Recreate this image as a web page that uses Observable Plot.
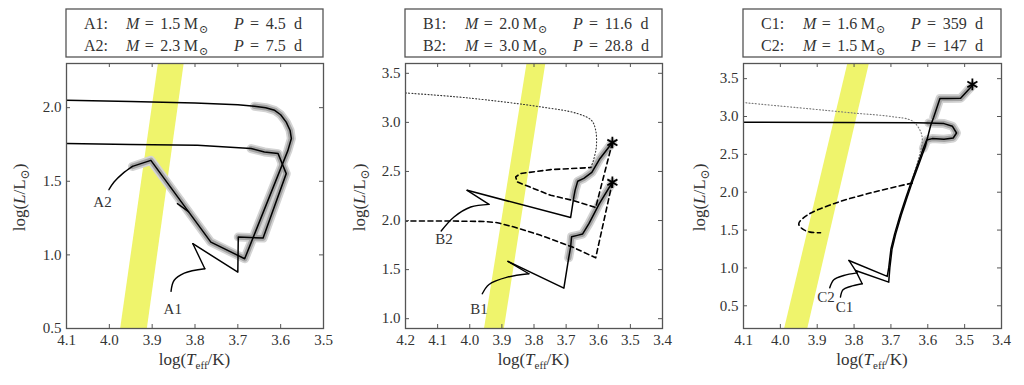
<!DOCTYPE html>
<html><head><meta charset="utf-8">
<script src="https://cdn.jsdelivr.net/npm/d3@7"></script>
<script src="https://cdn.jsdelivr.net/npm/@observablehq/plot@0.6"></script>
<style>
body{margin:0;background:#fff;}
#chart{position:relative;width:1024px;height:385px;overflow:hidden;}
#chart svg{position:absolute;top:0;}
</style></head><body><div id="chart"></div>
<script>
// ---------- data ----------
// instability strip edges (log Teff at given log L)
const stripLum = [0.0, 4.0];
const stripBlueEdge = [3.998, 3.802];
const stripRedEdge = [3.935, 3.744];

// Panel A
const A_xTicks = [4.1, 4.0, 3.9, 3.8, 3.7, 3.6, 3.5];
const A_yTicks = [0.5, 1.0, 1.5, 2.0];
const A_names = ["A1", "A2"];
const A_mass = ["1.5", "2.3"];
const A_period = ["4.5", "7.5"];
const A1_track = [[3.805,1.076],[3.700,0.883],[3.699,1.121],[3.641,1.114],[3.587,1.552],[3.606,1.688],[3.638,1.699],[3.669,1.722],[3.794,1.744],[3.950,1.749],[4.100,1.756]];
const A2_track = [[3.946,1.601],[3.903,1.642],[3.763,1.087],[3.684,0.974],[3.583,1.710],[3.575,1.790],[3.578,1.845],[3.587,1.902],[3.600,1.952],[3.614,1.982],[3.635,2.000],[3.661,2.010],[3.700,2.020],[3.800,2.032],[3.950,2.042],[4.100,2.050]];
const A2_hook = [[3.841,1.348],[3.815,1.293]];
const A1_arrow = [[3.856,0.752],[3.849,0.826],[3.825,0.876],[3.777,0.906]];
const A2_arrow = [[4.001,1.443],[3.989,1.495],[3.969,1.552],[3.946,1.601]];
const A_labelPos = [[3.852,0.634],[4.016,1.357]];

// Panel B
const B_xTicks = [4.2, 4.1, 4.0, 3.9, 3.8, 3.7, 3.6, 3.5, 3.4];
const B_yTicks = [1.0, 1.5, 2.0, 2.5, 3.0, 3.5];
const B_names = ["B1", "B2"];
const B_mass = ["2.0", "3.0"];
const B_period = ["11.6", "28.8"];
const B1_track = [[3.881,1.584],[3.707,1.311],[3.692,1.620],[3.686,1.730],[3.683,1.835],[3.665,1.849],[3.649,1.862],[3.629,1.968],[3.597,2.170],[3.556,2.390]];
const B2_track = [[4.008,2.308],[3.686,2.030],[3.676,2.240],[3.672,2.310],[3.664,2.400],[3.645,2.430],[3.620,2.490],[3.595,2.630],[3.556,2.795]];
const B1_dashed = [[3.556,2.390],[3.608,1.620],[3.680,1.730],[3.779,1.849],[3.862,1.934],[3.914,1.978],[3.950,1.990],[4.060,1.995],[4.200,1.995]];
const B2_dashed = [[3.556,2.795],[3.608,2.132],[3.680,2.206],[3.748,2.257],[3.852,2.393],[3.857,2.444],[3.842,2.479],[3.748,2.519],[3.623,2.540]];
const B2_dotted = [[3.623,2.540],[3.615,2.614],[3.606,2.750],[3.608,2.920],[3.621,3.020],[3.665,3.090],[3.779,3.158],[4.008,3.250],[4.200,3.300]];
const B_stars = [[3.556,2.795],[3.556,2.390]];
const B1_arrow = [[3.961,1.254],[3.940,1.349],[3.883,1.423],[3.816,1.458]];
const B2_arrow = [[4.089,1.893],[4.049,2.036],[3.997,2.138],[3.940,2.165]];
const B_labelPos = [[3.971,1.100],[4.080,1.815]];

// Panel C
const C_xTicks = [4.1, 4.0, 3.9, 3.8, 3.7, 3.6, 3.5, 3.4];
const C_yTicks = [0.5, 1.0, 1.5, 2.0, 2.5, 3.0, 3.5];
const C_names = ["C1", "C2"];
const C_mass = ["1.6", "1.5"];
const C_period = ["359", "147"];
const C1_track = [[3.796,0.967],[3.706,0.812],[3.703,1.000],[3.697,1.250],[3.687,1.450],[3.672,1.700],[3.657,1.920],[3.643,2.120],[3.625,2.360],[3.607,2.600],[3.592,2.884],[3.584,2.990],[3.567,3.237],[3.547,3.237],[3.511,3.240],[3.479,3.410]];
const C2_track = [[3.814,1.099],[3.710,0.888],[3.706,1.000],[3.700,1.250],[3.690,1.450],[3.675,1.700],[3.660,1.920],[3.646,2.120],[3.628,2.360],[3.612,2.580],[3.603,2.690],[3.588,2.708],[3.556,2.699],[3.531,2.716],[3.522,2.782],[3.533,2.871],[3.556,2.906],[3.597,2.915],[3.633,2.917],[4.100,2.925]];
const C_dashed = [[3.642,2.121],[3.746,2.002],[3.855,1.849],[3.928,1.694],[3.950,1.584],[3.941,1.518],[3.919,1.473],[3.891,1.465]];
const C_dotted = [[3.640,2.200],[3.624,2.465],[3.615,2.663],[3.619,2.796],[3.642,2.941],[3.700,3.000],[3.800,3.045],[3.928,3.105],[4.100,3.184]];
const C_stars = [[3.479,3.425]];
const C1_arrow = [[3.837,0.614],[3.830,0.712],[3.810,0.755],[3.778,0.791]];
const C2_arrow = [[3.866,0.738],[3.855,0.844],[3.828,0.900],[3.792,0.935]];
const C_labelPos = [[3.826,0.476],[3.876,0.610]];

// ---------- drawing ----------
const FONT = "'Liberation Serif', 'DejaVu Serif', serif";
const TEXT = "#333";
const FRAME = "#555";
const STRIP = "#eff46c";
const strip = stripLum.map((L, i) => ({L, blue: stripBlueEdge[i], red: stripRedEdge[i]}));
const X = d => d[0], Y = d => d[1];
const fmt = d3.format(".1f");

const panels = [
  {left: 0, width: 340, ml: 66, mr: 17, xdom: [4.1, 3.5], ydom: [0.5, 2.3], xTicks: A_xTicks, yTicks: A_yTicks,
   names: A_names, mass: A_mass, period: A_period,
   tracks: [A1_track, A2_track, A2_hook], highlights: [A1_track.slice(2, 8), A2_track.slice(0, 12)],
   dashed: [], dotted: [], stars: [], dottedColor: "#333",
   arrows: [{curve: A1_arrow, tip: A1_track[0]}, {curve: A2_arrow, tip: null}],
   labels: A_labelPos.map((p, i) => ({p, t: A_names[i]}))},
  {left: 340, width: 340, ml: 65, mr: 18, xdom: [4.2, 3.4], ydom: [0.9, 3.6], xTicks: B_xTicks, yTicks: B_yTicks,
   names: B_names, mass: B_mass, period: B_period,
   tracks: [B1_track, B2_track], highlights: [B1_track.slice(2), B2_track.slice(2)],
   dashed: [B1_dashed, B2_dashed], dashedCurve: "linear", dotted: [B2_dotted], stars: B_stars, dottedColor: "#333",
   arrows: [{curve: B1_arrow, tip: B1_track[0]}, {curve: B2_arrow, tip: B2_track[0]}],
   labels: B_labelPos.map((p, i) => ({p, t: B_names[i]}))},
  {left: 680, width: 344, ml: 63, mr: 23, xdom: [4.1, 3.4], ydom: [0.2, 3.7], xTicks: C_xTicks, yTicks: C_yTicks,
   names: C_names, mass: C_mass, period: C_period,
   tracks: [C1_track, C2_track], highlights: [C1_track.slice(11), C2_track.slice(9, 18)],
   dashed: [C_dashed], dashedCurve: "catmull-rom", dotted: [C_dotted], stars: C_stars, dottedColor: "#777",
   arrows: [{curve: C1_arrow, tip: C1_track[0]}, {curve: C2_arrow, tip: C2_track[0]}],
   labels: C_labelPos.map((p, i) => ({p, t: C_names[i]}))}
];

const H = 385, MT = 63, MB = 57;
for (const p of panels) {
  const innerW = p.width - p.ml - p.mr, innerH = H - MT - MB;
  const marks = [Plot.areaX(strip, {y: "L", x1: "blue", x2: "red", fill: STRIP, clip: true})];
  for (const h of p.highlights) marks.push(Plot.line(h, {x: X, y: Y, stroke: "#d4d4d4", strokeWidth: 9, strokeLinejoin: "round", strokeLinecap: "round", clip: true}));
  for (const h of p.highlights) marks.push(Plot.line(h, {x: X, y: Y, stroke: "#a4a4a4", strokeWidth: 5.5, strokeLinejoin: "round", strokeLinecap: "round", clip: true}));
  for (const d of p.dotted) marks.push(Plot.line(d, {x: X, y: Y, stroke: p.dottedColor, strokeWidth: 1.1, strokeDasharray: "1,2.2", curve: "catmull-rom", clip: true}));
  for (const d of p.dashed) marks.push(Plot.line(d, {x: X, y: Y, stroke: "black", strokeWidth: 1.6, strokeDasharray: "5,3.5", curve: p.dashedCurve, clip: true}));
  for (const t of p.tracks) marks.push(Plot.line(t, {x: X, y: Y, stroke: "black", strokeWidth: 1.5, clip: true}));
  for (const a of p.arrows) {
    marks.push(Plot.line(a.curve, {x: X, y: Y, stroke: "black", strokeWidth: 1.4, curve: "catmull-rom", clip: true}));
    if (a.tip) marks.push(Plot.line([a.curve[a.curve.length - 1], a.tip], {x: X, y: Y, stroke: "black", strokeWidth: 1.4, clip: true}));
  }
  marks.push(Plot.text(p.labels, {x: d => d.p[0], y: d => d.p[1], text: d => d.t, fontSize: 15, fill: TEXT}));
  if (p.stars.length) marks.push(Plot.dot(p.stars, {x: X, y: Y, symbol: "asterisk", r: 5.5, stroke: "black", strokeWidth: 1.8}));
  marks.push(Plot.frame({stroke: FRAME, strokeWidth: 1.3}));
  marks.push(Plot.tickX(p.xTicks, {x: d => d, insetTop: innerH - 4, stroke: FRAME}));
  marks.push(Plot.tickX(p.xTicks, {x: d => d, insetBottom: innerH - 4, stroke: FRAME}));
  marks.push(Plot.tickY(p.yTicks, {y: d => d, insetRight: innerW - 4, stroke: FRAME}));
  marks.push(Plot.tickY(p.yTicks, {y: d => d, insetLeft: innerW - 4, stroke: FRAME}));
  marks.push(Plot.axisX({ticks: p.xTicks, tickSize: 0, tickPadding: 6, tickFormat: fmt, label: null, fontSize: 15, fill: TEXT}));
  marks.push(Plot.axisY({ticks: p.yTicks, tickSize: 0, tickPadding: 5, tickFormat: fmt, label: null, fontSize: 15, fill: TEXT}));

  const svg = Plot.plot({
    width: p.width, height: H,
    marginLeft: p.ml, marginRight: p.mr, marginTop: MT, marginBottom: MB,
    x: {domain: p.xdom}, y: {domain: p.ydom},
    style: {fontFamily: FONT, fontSize: "15px", background: "transparent", overflow: "visible"},
    marks
  });
  svg.style.left = p.left + "px";
  const s = d3.select(svg);
  const g = s.append("g").attr("font-family", FONT).attr("fill", TEXT).attr("text-anchor", "start");
  // title box
  g.append("rect").attr("x", p.ml).attr("y", 9).attr("width", innerW).attr("height", 48)
    .attr("fill", "none").attr("stroke", FRAME).attr("stroke-width", 1.3);
  const baselines = [29, 50.5];
  p.names.forEach((nm, i) => {
    const y = baselines[i];
    g.append("text").attr("x", p.ml + 18).attr("y", y).attr("font-size", 16).text(nm + ":");
    const t2 = g.append("text").attr("x", p.ml + 60).attr("y", y).attr("font-size", 16);
    t2.append("tspan").attr("font-style", "italic").text("M");
    t2.append("tspan").attr("dx", 5.5).text("=");
    t2.append("tspan").attr("dx", 6.3).text(p.mass[i]);
    t2.append("tspan").attr("dx", 3.5).text("M");
    t2.append("tspan").attr("dx", 1).attr("dy", 4).attr("font-size", 11).text("\u2299");
    const t3 = g.append("text").attr("x", p.ml + 168).attr("y", y).attr("font-size", 16);
    t3.append("tspan").attr("font-style", "italic").text("P");
    t3.append("tspan").attr("dx", 6.2).text("=");
    t3.append("tspan").attr("dx", 6.7).text(p.period[i]);
    t3.append("tspan").attr("dx", 8.3).text("d");
  });
  // x label
  const xl = g.append("text").attr("x", p.ml + innerW / 2).attr("y", 365).attr("text-anchor", "middle").attr("font-size", 17);
  xl.append("tspan").text("log(");
  xl.append("tspan").attr("font-style", "italic").text("T");
  xl.append("tspan").attr("dy", 3.5).attr("font-size", 11).text("eff");
  xl.append("tspan").attr("dy", -3.5).text("/K)");
  // y label
  const yl = g.append("text").attr("transform", `translate(25,${MT + innerH / 2 + 2}) rotate(-90)`)
    .attr("text-anchor", "middle").attr("font-size", 17);
  yl.append("tspan").text("log(");
  yl.append("tspan").attr("font-style", "italic").text("L");
  yl.append("tspan").text("/L");
  yl.append("tspan").attr("dy", 4).attr("font-size", 12).text("\u2299");
  yl.append("tspan").attr("dy", -4).text(")");
  document.getElementById("chart").appendChild(svg);
}
</script>
</body></html>
